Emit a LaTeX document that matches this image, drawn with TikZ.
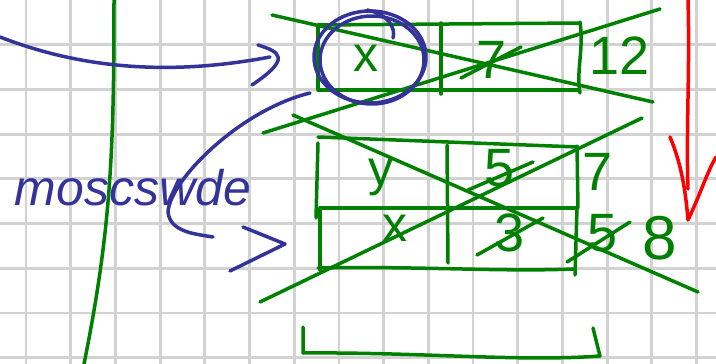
\documentclass[tikz,border=0pt]{standalone}
\usepackage{fontspec}
\setmainfont{Liberation Sans}
\definecolor{InkGreen}{HTML}{008000}
\definecolor{InkBlue}{HTML}{333399}
\definecolor{InkRed}{HTML}{FF0000}
\definecolor{GridGray}{HTML}{D2D2D2}
\tikzset{
  pen/.style={InkGreen,line width=3.5pt,line cap=round,line join=round},
  bluepen/.style={InkBlue,line width=3.5pt,line cap=round,line join=round},
  redpen/.style={InkRed,line width=3.5pt,line cap=round,line join=round},
  digit/.style={text=InkGreen,inner sep=0pt,font=\fontsize{54}{54}\selectfont},
  letter/.style={text=InkGreen,inner sep=0pt,font=\fontsize{50}{50}\selectfont}
}

\begin{document}
\begin{tikzpicture}[x=1pt,y=-1pt]
  \useasboundingbox[fill=white] (0,0) rectangle (716,364);
  % squared paper
  \foreach \gx in {0,...,15} {
    \draw[GridGray,line width=2.8pt] (26+44.7*\gx,0) -- (26+44.7*\gx,364);
  }
  \foreach \gy in {1,...,8} {
    \draw[GridGray,line width=2.8pt] (0,44.7*\gy) -- (716,44.7*\gy);
  }

  % divider line on the left
  \draw[pen] (114,0) .. controls (114,150) and (111,230) .. (84,364);

  % upper record
  \draw[pen] (318,25) -- (580,23);
  \draw[pen] (318,90) -- (578,90);
  \draw[pen] (318,25) -- (318,89);
  \draw[pen] (441,23) -- (441,94);
  \draw[pen] (580,22) .. controls (584,50) and (576,70) .. (580,93);
  \node[letter] (topx) at (366,58) {x};
  \node[digit] (topseven) at (492,60) {7};
  \node[digit] (toptwelve) at (620,56) {12};
  \draw[pen] (461,78) -- (521,47);
  \draw[pen] (272,15) -- (653,102);
  \draw[pen] (263,133) -- (660,9);

  % lower record, two rows
  \draw[pen] (318,137) -- (578,147);
  \draw[pen] (318,143) -- (316,218);
  \draw[pen] (577,146) -- (578,208);
  \draw[pen] (320,208) -- (577,208);
  \draw[pen] (320,208) -- (320,270);
  \draw[pen] (318,268) .. controls (420,266) and (500,272) .. (573,269);
  \draw[pen] (577,208) -- (575,275);
  \draw[pen] (447,145) -- (448,263);
  \node[letter] (lowy) at (381,177) {y};
  \node[digit] (lowfive) at (500,168) {5};
  \node[digit] (lowseven) at (598,172) {7};
  \node[letter] (lowx) at (395,228) {x};
  \node[digit] (lowthree) at (510,233) {3};
  \node[digit] (lowfiveb) at (603,233) {5};
  \node[digit,font=\fontsize{62}{62}\selectfont] (loweight) at (660,238) {8};
  \draw[pen] (468,190) -- (533,162);
  \draw[pen] (477,255) -- (543,218);
  \draw[pen] (567,262) -- (630,222);
  \draw[pen] (293,115) -- (698,292);
  \draw[pen] (260,302) -- (642,118);

  % bracket below
  \draw[pen] (303,327) -- (303,353) .. controls (420,352) and (520,362) .. (600,356) -- (593,328);

  % blue marks
  \node[text=InkBlue,inner sep=0pt,font=\fontsize{50}{50}\selectfont\itshape] (word) at (133,188) {moscswde};
  \coordinate (topstart) at (0,37);
  \coordinate (topend) at (270,57);
  \draw[bluepen] (topstart) .. controls (90,72) and (180,74) .. (topend);
  \draw[bluepen] (258,45) .. controls (280,52) and (292,58) .. (252,85);
  \draw[bluepen] (370,57) ellipse [x radius=56pt,y radius=46pt];
  \draw[bluepen] (372,60) ellipse [x radius=52pt,y radius=44pt];
  \draw[bluepen] (367,10) .. controls (388,14) and (396,28) .. (393,38);
  \coordinate (curvestart) at (310,93);
  \coordinate (curveend) at (213,237);
  \draw[bluepen] (curvestart) .. controls (240,110) and (170,180) .. (168,212)
    .. controls (170,232) and (195,234) .. (curveend);
  \draw[bluepen] (243,227) -- (285,244) -- (230,271);

  % red arrow
  \draw[redpen] (688,0) .. controls (690,70) and (686,130) .. (688,189);
  \draw[redpen] (670,137) .. controls (682,165) and (686,195) .. (688,220)
    .. controls (700,195) and (708,170) .. (716,157);
\end{tikzpicture}
\end{document}
